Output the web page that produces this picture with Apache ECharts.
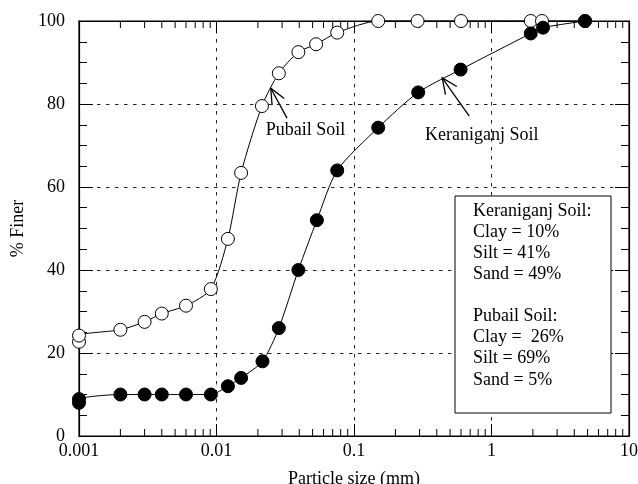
<!DOCTYPE html>
<html><head><meta charset="utf-8">
<script src="https://cdn.jsdelivr.net/npm/echarts@6/dist/echarts.min.js"></script>
<style>html,body{margin:0;padding:0;background:#fff}#c{width:638px;height:484px}</style>
</head><body><div id="c"></div>
<script>
// Pubail Soil (open circles)
const pubailX = [0.001, 0.001, 0.002, 0.003, 0.004, 0.006, 0.0091, 0.0121, 0.0151, 0.0214, 0.0284, 0.0394, 0.053, 0.0755, 0.15, 0.29, 0.6, 1.93, 2.33, 4.78];
const pubailY = [22.7, 24.2, 25.6, 27.5, 29.5, 31.4, 35.4, 47.5, 63.4, 79.5, 87.4, 92.5, 94.4, 97.2, 100, 100, 100, 100, 100, 100];
// Keraniganj Soil (filled circles)
const keraX = [0.001, 0.001, 0.002, 0.003, 0.004, 0.006, 0.0091, 0.0121, 0.0151, 0.0216, 0.0284, 0.0394, 0.0537, 0.0755, 0.15, 0.293, 0.596, 1.93, 2.37, 4.79];
const keraY = [8.0, 8.9, 10, 10, 10, 10, 10, 12, 14, 18, 26, 40, 52, 64, 74.3, 82.8, 88.3, 97, 98.4, 100];
const xTickLabels = ['0.001', '0.01', '0.1', '1', '10'];
const yTickLabels = ['0', '20', '40', '60', '80', '100'];
const decades = [0.001, 0.01, 0.1, 1];
const minorFactors = [2, 3, 4, 5, 6, 7, 8, 9];
// annotation anchors (data coords)
const annoText = [{name: 'Pubail Soil', x: 0.02285, y: 73.7}, {name: 'Keraniganj Soil', x: 0.328, y: 72.5}];
const arrows = [{tail: [0.0326, 76.6], head: [0.0248, 83.8]}, {tail: [0.689, 77.1], head: [0.438, 86.3]}];
const boxLines = ['Keraniganj Soil:', 'Clay = 10%', 'Silt = 41%', 'Sand = 49%', '', 'Pubail Soil:', 'Clay =  26%', 'Silt = 69%', 'Sand = 5%'];

const FONT = 'Liberation Serif';
const FS = 18;
const minorTicks = [];
decades.forEach(d => minorFactors.forEach(f => minorTicks.push(+(d * f).toPrecision(2))));

function fmtX(v) {
  const e = Math.round(Math.log10(v));
  return xTickLabels[e + 3] !== undefined ? xTickLabels[e + 3] : '';
}

const chart = echarts.init(document.getElementById('c'));
const axisBase = {
  axisLine: {show: true, onZero: false, lineStyle: {color: '#000', width: 1.2}},
};
const gridDash = {color: '#222', type: [3.5, 5.5], width: 1};
const option = {
  animation: false,
  backgroundColor: '#fff',
  textStyle: {fontFamily: FONT},
  grid: {left: 79, right: 9, top: 21, bottom: 48, containLabel: false, outerBoundsMode: 'none', show: true, borderColor: '#000', borderWidth: 1.2, backgroundColor: 'transparent'},
  xAxis: [{
    type: 'log', logBase: 10, min: 0.001, max: 10,
    ...axisBase,
    name: 'Particle size (mm)', nameLocation: 'middle', nameGap: 34,
    nameTextStyle: {fontFamily: FONT, fontSize: FS, color: '#000'},
    axisTick: {show: true, inside: true, length: 12, lineStyle: {color: '#000'}},
    axisLabel: {formatter: fmtX, fontFamily: FONT, fontSize: FS, color: '#000', margin: 6},
    splitLine: {show: true, lineStyle: gridDash}
  }, {
    type: 'log', logBase: 10, min: 0.001, max: 10, position: 'top',
    ...axisBase,
    axisTick: {show: true, inside: true, length: 12, lineStyle: {color: '#000'}},
    axisLabel: {show: false}, splitLine: {show: false}
  }],
  yAxis: [{
    type: 'value', min: 0, max: 100, interval: 20,
    ...axisBase,
    name: '% Finer', nameLocation: 'middle', nameGap: 50,
    nameTextStyle: {fontFamily: FONT, fontSize: FS, color: '#000'},
    axisTick: {show: true, inside: true, length: 14, lineStyle: {color: '#000'}},
    minorTick: {show: true, splitNumber: 4, length: 8, lineStyle: {color: '#000'}},
    axisLabel: {fontFamily: FONT, fontSize: FS, color: '#000', margin: 14, formatter: v => yTickLabels[Math.round(v / 20)]},
    splitLine: {show: true, lineStyle: gridDash}
  }, {
    type: 'value', min: 0, max: 100, interval: 20, position: 'right',
    ...axisBase,
    axisTick: {show: true, inside: true, length: 14, lineStyle: {color: '#000'}},
    minorTick: {show: true, splitNumber: 4, length: 8, lineStyle: {color: '#000'}},
    axisLabel: {show: false}, splitLine: {show: false}
  }],
  series: [
    {
      type: 'custom', name: 'minorTicks', xAxisIndex: 0, yAxisIndex: 0, silent: true, clip: false,
      data: minorTicks.map(v => [v, 0]),
      renderItem: function (params, api) {
        const p = api.coord([api.value(0), 0]);
        const cs = params.coordSys;
        return {type: 'group', children: [
          {type: 'line', shape: {x1: p[0], y1: cs.y + cs.height, x2: p[0], y2: cs.y + cs.height - 7}, style: {stroke: '#000', lineWidth: 1}},
          {type: 'line', shape: {x1: p[0], y1: cs.y, x2: p[0], y2: cs.y + 7}, style: {stroke: '#000', lineWidth: 1}}
        ]};
      }
    },
    {
      type: 'line', name: 'Pubail Soil', smooth: 0.25, z: 3,
      data: pubailX.map((x, i) => [x, pubailY[i]]),
      symbol: 'circle', symbolSize: 13, clip: false,
      lineStyle: {color: '#000', width: 1},
      itemStyle: {color: '#fff', borderColor: '#000', borderWidth: 1}
    },
    {
      type: 'line', name: 'Keraniganj Soil', smooth: 0.25, z: 4,
      data: keraX.map((x, i) => [x, keraY[i]]),
      symbol: 'circle', symbolSize: 13, clip: false,
      lineStyle: {color: '#000', width: 1},
      itemStyle: {color: '#000', borderColor: '#000', borderWidth: 1}
    }
  ]
};
chart.setOption(option);

// annotation labels, arrows and info box
const gfx = [];
const toPx = v => chart.convertToPixel({xAxisIndex: 0, yAxisIndex: 0}, v);
annoText.forEach(a => {
  const p = toPx([a.x, a.y]);
  gfx.push({type: 'text', x: p[0], y: p[1], style: {text: a.name, font: FS + 'px "Liberation Serif"', fill: '#000', verticalAlign: 'middle', align: 'left'}, z: 10});
});
arrows.forEach(a => {
  const t = toPx(a.tail);
  const h = toPx(a.head);
  const ang = Math.atan2(t[1] - h[1], t[0] - h[0]);
  const L = 17, da = 0.42;
  const b1 = [h[0] + L * Math.cos(ang + da), h[1] + L * Math.sin(ang + da)];
  const b2 = [h[0] + L * Math.cos(ang - da), h[1] + L * Math.sin(ang - da)];
  gfx.push({type: 'line', shape: {x1: t[0], y1: t[1], x2: h[0], y2: h[1]}, style: {stroke: '#000', lineWidth: 1.3}, z: 10});
  gfx.push({type: 'polyline', shape: {points: [b1, h, b2]}, style: {stroke: '#000', lineWidth: 1.3, fill: null}, z: 10});
});
gfx.push({type: 'rect', shape: {x: 455, y: 196, width: 156, height: 217}, style: {fill: '#fff', stroke: '#000', lineWidth: 1}, z: 20});
boxLines.forEach((s, i) => {
  gfx.push({type: 'text', x: 473, y: 211 + i * 21.1, style: {text: s, font: FS + 'px "Liberation Serif"', fill: '#000', verticalAlign: 'middle', align: 'left'}, z: 21});
});
chart.setOption({graphic: gfx});
</script></body></html>
